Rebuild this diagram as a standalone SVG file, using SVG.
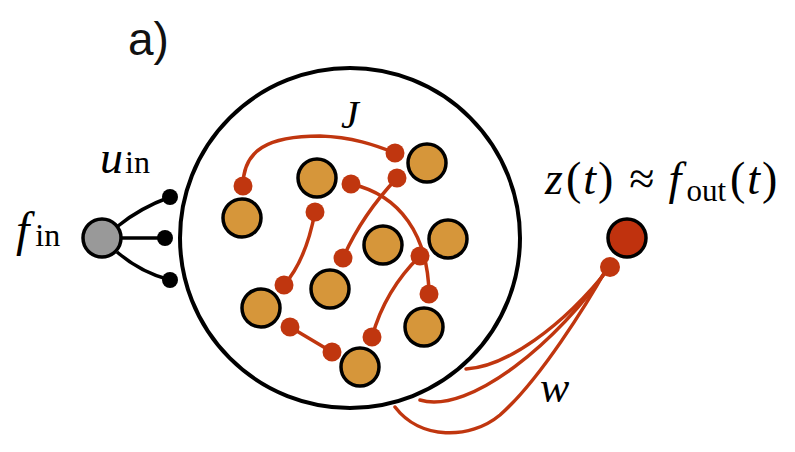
<svg xmlns="http://www.w3.org/2000/svg" width="795" height="452" viewBox="0 0 795 452">
<style>
.node{fill:#d6963a;stroke:#000;stroke-width:3.5}
.syn{fill:#c0360f}
.red{fill:none;stroke:#c0360f;stroke-width:3.5;stroke-linecap:round}
.blk{fill:none;stroke:#000;stroke-width:3.5}
.m{font-family:"Liberation Serif",serif;font-style:italic;fill:#000}
.r{font-family:"Liberation Serif",serif;font-style:normal;fill:#000}
</style>
<rect width="795" height="452" fill="#fff"/>
<text x="128" y="55" font-family="Liberation Sans, Arial, sans-serif" font-size="46" fill="#111">a)</text>
<g id="reservoir">
<circle cx="350" cy="238" r="170" fill="none" stroke="#000" stroke-width="4"/>
<text class="m" x="341" y="128" font-size="40">J</text>
</g>
<g id="connectors">
<path class="red" d="M243,186 C243,150 268,136 320,136 C352,137 375,145 395,153"/>
<path class="red" d="M397,178 Q362,215 343,258"/>
<path class="red" d="M351,184 C400,195 428,235 429,294"/>
<path class="red" d="M315,212 Q306,260 284,285"/>
<path class="red" d="M420,256 Q385,290 372,337"/>
<path class="red" d="M290,327 L332,352"/>
<path class="blk" d="M118,226 Q140,208 170,197"/>
<path class="blk" d="M121,238 L165,238"/>
<path class="blk" d="M117,252 Q140,272 170,280"/>
<path class="red" d="M466,369 C505,367 562,328 610,267"/>
<path class="red" d="M420,400 C470,415 560,340 608,268"/>
<path class="red" d="M395,407 C420,440 470,440 500,415 C540,380 588,302 607,268"/>
</g>
<g id="n1"><circle class="node" cx="242" cy="218" r="19"/></g>
<g id="n2"><circle class="node" cx="317" cy="178" r="19"/></g>
<g id="n3"><circle class="node" cx="427" cy="163" r="19"/></g>
<g id="n4"><circle class="node" cx="383" cy="245" r="19"/></g>
<g id="n5"><circle class="node" cx="448" cy="239" r="19"/></g>
<g id="n6"><circle class="node" cx="330" cy="289" r="19"/></g>
<g id="n7"><circle class="node" cx="261" cy="308" r="19"/></g>
<g id="n8"><circle class="node" cx="424" cy="327" r="19"/></g>
<g id="n9"><circle class="node" cx="360" cy="367" r="19"/></g>
<g id="synapses">
<circle class="syn" cx="243" cy="186" r="9.5"/>
<circle class="syn" cx="395" cy="153" r="9.5"/>
<circle class="syn" cx="397" cy="178" r="9.5"/>
<circle class="syn" cx="351" cy="184" r="9.5"/>
<circle class="syn" cx="315" cy="212" r="9.5"/>
<circle class="syn" cx="343" cy="258" r="9.5"/>
<circle class="syn" cx="420" cy="256" r="9.5"/>
<circle class="syn" cx="284" cy="285" r="9.5"/>
<circle class="syn" cx="429" cy="294" r="9.5"/>
<circle class="syn" cx="290" cy="327" r="9.5"/>
<circle class="syn" cx="332" cy="352" r="9.5"/>
<circle class="syn" cx="372" cy="337" r="9.5"/>
</g>
<g id="input">
<circle cx="102" cy="238" r="19" fill="#999" stroke="#000" stroke-width="3.5"/>
<circle cx="170" cy="197" r="8" fill="#000"/>
<circle cx="165" cy="238" r="8" fill="#000"/>
<circle cx="170" cy="280" r="8" fill="#000"/>
<text x="16" y="246" font-size="48"><tspan class="m">f</tspan><tspan class="r" font-size="32" dx="6">in</tspan></text>
<text x="100" y="173" font-size="46"><tspan class="m">u</tspan><tspan class="r" font-size="32" dx="2">in</tspan></text>
</g>
<g id="output">
<circle cx="627" cy="238" r="19" fill="#c0320e" stroke="#000" stroke-width="3.5"/>
<circle class="syn" cx="610" cy="267" r="10"/>
<text x="545" y="194" font-size="46"><tspan class="m">z</tspan><tspan class="r" dx="3">(</tspan><tspan class="m" dx="2">t</tspan><tspan class="r" dx="2">)</tspan><tspan class="r" dx="16">≈</tspan><tspan class="m" dx="14">f</tspan><tspan class="r" font-size="31" dy="7" dx="5">out</tspan><tspan class="r" dy="-7" dx="4">(</tspan><tspan class="m" dx="2">t</tspan><tspan class="r" dx="2">)</tspan></text>
<text class="m" x="540" y="402" font-size="44">w</text>
</g>
</svg>
